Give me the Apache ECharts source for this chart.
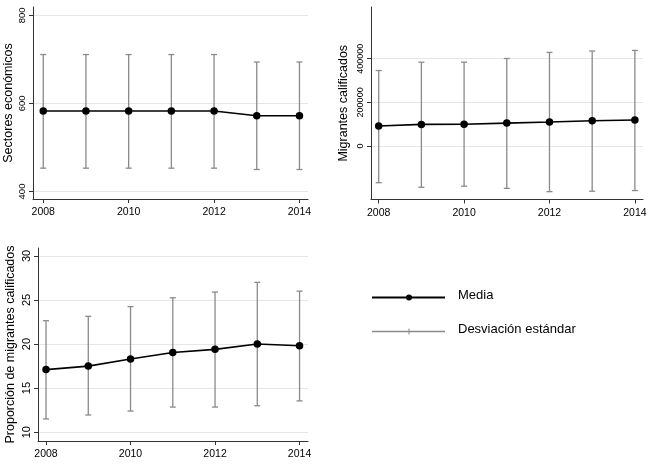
<!DOCTYPE html>
<html>
<head>
<meta charset="utf-8">
<script src="https://cdn.jsdelivr.net/npm/echarts@6/dist/echarts.min.js"></script>
<style>
html,body{margin:0;padding:0;background:#fff;}
#c{width:650px;height:469px;}
</style>
</head>
<body>
<div id="c"></div>
<script>
// ---- data ----
const years = [2008, 2009, 2010, 2011, 2012, 2013, 2014];
const xTicks = [2008, 2010, 2012, 2014];

const sectoresMedia = [583, 583, 583, 583, 583, 572, 572];
const sectoresLow   = [453, 453, 453, 453, 453, 450, 450];
const sectoresHigh  = [711, 711, 711, 711, 711, 694, 694];
const sectoresTicks = [400, 600, 800];

const migrantesMedia = [91500, 99000, 100000, 105000, 110000, 116000, 119000];
const migrantesLow   = [-168000, -189000, -184000, -194000, -209000, -207000, -204000];
const migrantesHigh  = [346000, 384000, 384000, 401000, 429000, 435000, 438000];
const migrantesTicks = [0, 200000, 400000];

const propMedia = [17.1, 17.5, 18.3, 19.05, 19.4, 20.0, 19.8];
const propLow   = [11.5, 11.95, 12.4, 12.85, 12.85, 13.0, 13.55];
const propHigh  = [22.65, 23.15, 24.25, 25.25, 25.9, 27.0, 26.0];
const propTicks = [10, 15, 20, 25, 30];

const titles = ['Sectores económicos', 'Migrantes calificados', 'Proporción de migrantes calificados'];
const legendLabels = ['Media', 'Desviación estándar'];

// ---- layout ----
const FONT = 'Liberation Sans, Arial, Helvetica, sans-serif';
const panels = [
  {grid:{left:33, top:7, width:275, height:192}, xmin:2007.76, xmax:2014.2, ymin:383, ymax:819,
   media:sectoresMedia, low:sectoresLow, high:sectoresHigh, ticks:sectoresTicks, title:titles[0], yfs:9.5, nameGap:18, labelMargin:6},
  {grid:{left:371, top:7, width:272, height:192.5}, xmin:2007.82, xmax:2014.19, ymin:-245000, ymax:637000,
   media:migrantesMedia, low:migrantesLow, high:migrantesHigh, ticks:migrantesTicks, title:titles[1], yfs:9, nameGap:21, labelMargin:6},
  {grid:{left:38, top:248, width:270, height:193}, xmin:2007.81, xmax:2014.2, ymin:9.0, ymax:30.9,
   media:propMedia, low:propLow, high:propHigh, ticks:propTicks, title:titles[2], yfs:11, nameGap:21, labelMargin:6}
];

const AXIS_COLOR = '#333';
const option = {
  animation:false,
  backgroundColor:'#fff',
  grid: panels.map(p => Object.assign({containLabel:false}, p.grid)),
  xAxis: panels.map((p,i) => ({
    type:'value', gridIndex:i, min:p.xmin, max:p.xmax,
    axisLine:{show:true, onZero:false, lineStyle:{color:AXIS_COLOR, width:1}},
    axisTick:{show:true, length:4, inside:false, customValues:xTicks, lineStyle:{color:AXIS_COLOR}},
    axisLabel:{show:true, customValues:xTicks, fontSize:10.5, color:'#000', fontFamily:FONT, margin:8, formatter:v=>String(v)},
    splitLine:{show:false}
  })),
  yAxis: panels.map((p,i) => ({
    type:'value', gridIndex:i, min:p.ymin, max:p.ymax,
    name:p.title, nameLocation:'middle', nameGap:p.nameGap,
    nameTextStyle:{fontSize:12.5, color:'#000', fontFamily:FONT},
    axisLine:{show:true, onZero:false, lineStyle:{color:AXIS_COLOR, width:1}},
    axisTick:{show:true, length:4, customValues:p.ticks, lineStyle:{color:AXIS_COLOR}},
    axisLabel:{show:true, customValues:p.ticks, rotate:90, fontSize:p.yfs, color:'#000', fontFamily:FONT, margin:p.labelMargin, formatter:v=>String(v)},
    splitLine:{show:true, lineStyle:{color:'#e6e6e6', width:1}}
  })),
  series: []
};

panels.forEach((p,i) => {
  option.series.push({
    type:'custom', xAxisIndex:i, yAxisIndex:i,
    data: years.map((y,k) => [y, p.low[k], p.high[k]]),
    encode:{x:0, y:[1,2]},
    renderItem:function(params, api){
      const x = api.value(0);
      const lo = api.coord([x, api.value(1)]);
      const hi = api.coord([x, api.value(2)]);
      const cap = 3;
      const st = {stroke:'#8a8a8a', lineWidth:1.3};
      return {type:'group', children:[
        {type:'line', shape:{x1:lo[0], y1:lo[1], x2:hi[0], y2:hi[1]}, style:st},
        {type:'line', shape:{x1:lo[0]-cap, y1:lo[1], x2:lo[0]+cap, y2:lo[1]}, style:st},
        {type:'line', shape:{x1:hi[0]-cap, y1:hi[1], x2:hi[0]+cap, y2:hi[1]}, style:st}
      ]};
    },
    z:2
  });
  option.series.push({
    type:'line', xAxisIndex:i, yAxisIndex:i,
    data: years.map((y,k) => [y, p.media[k]]),
    symbol:'circle', symbolSize:7.5, showSymbol:true,
    lineStyle:{color:'#000', width:1.6},
    itemStyle:{color:'#000'},
    z:3
  });
});

// legend drawn as graphics
option.graphic = [
  {type:'line', shape:{x1:372, y1:297.5, x2:445, y2:297.5}, style:{stroke:'#000', lineWidth:2}},
  {type:'circle', shape:{cx:409, cy:297.5, r:3}, style:{fill:'#000'}},
  {type:'text', left:458, top:289, style:{text:legendLabels[0], fontSize:13, fill:'#000', fontFamily:FONT}},
  {type:'line', shape:{x1:372, y1:331.5, x2:445, y2:331.5}, style:{stroke:'#8a8a8a', lineWidth:1.5}},
  {type:'line', shape:{x1:409, y1:328.5, x2:409, y2:334.5}, style:{stroke:'#8a8a8a', lineWidth:1}},
  {type:'text', left:458, top:323, style:{text:legendLabels[1], fontSize:13, fill:'#000', fontFamily:FONT}}
];

const chart = echarts.init(document.getElementById('c'), null, {renderer:'canvas'});
chart.setOption(option);
</script>
</body>
</html>
